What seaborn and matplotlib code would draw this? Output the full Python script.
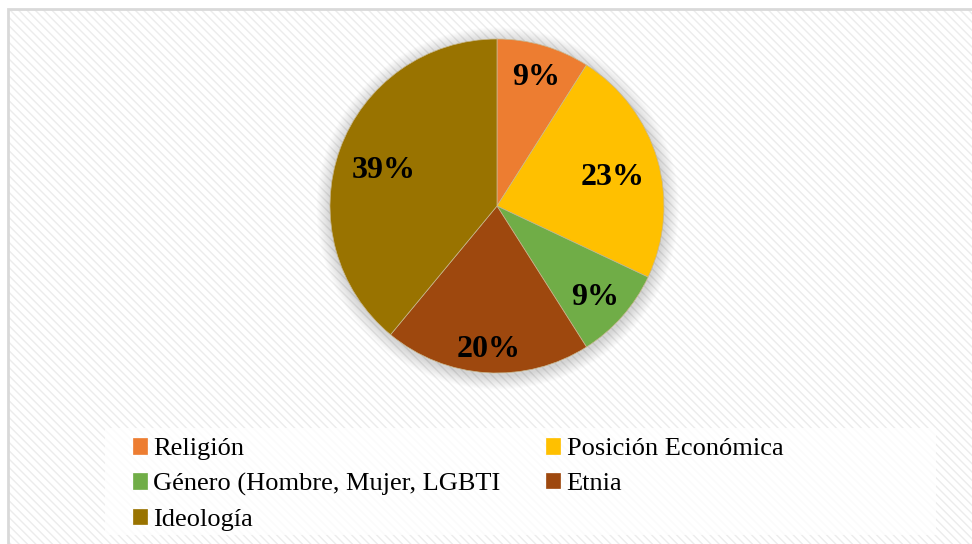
import seaborn as sns
import numpy as np
import matplotlib.pyplot as plt
from matplotlib.patches import Rectangle, Circle

# datos
categorias = ['Religión', 'Posición Económica', 'Género (Hombre, Mujer, LGBTI',
              'Etnia', 'Ideología']
valores = [9, 23, 9, 20, 39]
colores = ['#ED7D31', '#FFC000', '#70AD47', '#9E480E', '#997300']
# distancia radial de cada etiqueta (ajuste "best fit")
dist_etiqueta = [0.83, 0.72, 0.78, 0.83, 0.72]

sns.set_style('white')
plt.rcParams['font.family'] = ['Liberation Serif', 'DejaVu Serif']

W, H = 972, 544
fig = plt.figure(figsize=(W / 100, H / 100), dpi=100)
fig.patch.set_facecolor('white')

# fondo rayado con borde gris
fondo = Rectangle((8 / W, 0), 1, 1 - 9 / H, transform=fig.transFigure,
                  facecolor='white', edgecolor='#ececec', hatch='\\\\\\\\',
                  linewidth=0, zorder=0)
fig.patches.append(fondo)
borde = Rectangle((8 / W, -0.01), 1.1, 1 - 9 / H + 0.01, transform=fig.transFigure,
                  facecolor='none', edgecolor='#d9d9d9', linewidth=2, zorder=1)
fig.patches.append(borde)

# pastel
cx, cy, r = 497, H - 206, 167
ax = fig.add_axes([(cx - r) / W, (cy - r) / H, 2 * r / W, 2 * r / H])
ax.set_facecolor('none')
ax.set_zorder(3)

# sombra suave alrededor del pastel
for k in range(14):
    ax.add_patch(Circle((0.004, -0.014), 1.0 + 0.006 * (14 - k), color='#000000',
                        alpha=0.011, clip_on=False, zorder=0, linewidth=0))

wedges, _ = ax.pie(
    valores, colors=colores, startangle=90, counterclock=False,
    wedgeprops=dict(linewidth=0.5, edgecolor='#c8b890'))
for w in wedges:
    w.set_zorder(2)

total = sum(valores)
for w, v, d in zip(wedges, valores, dist_etiqueta):
    ang = np.deg2rad((w.theta1 + w.theta2) / 2)
    ax.text(d * np.cos(ang), d * np.sin(ang) - 0.03, f'{v / total * 100:.0f}%',
            ha='center', va='center', fontsize=23, fontweight='bold',
            color='black', zorder=3)

ax.set_xlim(-1, 1)
ax.set_ylim(-1, 1)
ax.set_aspect('equal')
ax.axis('off')

# leyenda (orden por filas como en el original)
lx0, ly0, lx1, ly1 = 105, 428, 936, 535
caja = Rectangle((lx0 / W, 1 - ly1 / H), (lx1 - lx0) / W, (ly1 - ly0) / H,
                 transform=fig.transFigure, facecolor='white', alpha=0.8,
                 edgecolor='none', zorder=2)
fig.patches.append(caja)
orden = [0, 2, 4, 1, 3]
leg = fig.legend([wedges[i] for i in orden], [categorias[i] for i in orden],
                 ncol=2, loc='upper left',
                 bbox_to_anchor=(133 / W, 1 - 438 / H), frameon=False,
                 fontsize=19, handlelength=0.53, handleheight=0.53,
                 handletextpad=0.23, columnspacing=1.75, labelspacing=0.48,
                 borderaxespad=0, borderpad=0, labelcolor='black')
leg.set_zorder(4)
for h in leg.legend_handles:
    h.set_edgecolor(h.get_facecolor())

fig.savefig('out.png', dpi=100, facecolor=fig.get_facecolor())
